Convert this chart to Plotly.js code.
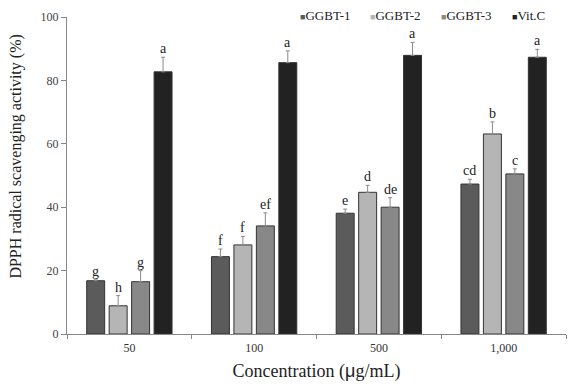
<!DOCTYPE html>
<html><head><meta charset="utf-8">
<script src="https://cdn.plot.ly/plotly-3.0.1.min.js"></script>
<style>body{margin:0;background:#fff}#chart{width:569px;height:386px}</style>
</head><body><div id="chart"></div>
<script>
const categories = ["50", "100", "500", "1,000"];
const seriesNames = ["GGBT-1", "GGBT-2", "GGBT-3", "Vit.C"];
const ggbt1 = [16.8, 24.4, 38.1, 47.3];
const ggbt2 = [8.9, 28.1, 44.7, 63.1];
const ggbt3 = [16.5, 34.1, 40.0, 50.5];
const vitc  = [82.7, 85.6, 87.9, 87.3];
const err1 = [0.3, 2.4, 1.3, 1.5];
const err2 = [3.2, 2.7, 2.2, 3.8];
const err3 = [3.5, 4.1, 3.0, 1.6];
const errV = [4.6, 3.7, 4.1, 2.5];
const letters1 = ["g", "f", "e", "cd"];
const letters2 = ["h", "f", "d", "b"];
const letters3 = ["g", "ef", "de", "c"];
const lettersV = ["a", "a", "a", "a"];

const values = [ggbt1, ggbt2, ggbt3, vitc];
const errs = [err1, err2, err3, errV];
const letters = [letters1, letters2, letters3, lettersV];
const colors = ["#5b5b5b", "#b5b5b5", "#888888", "#222222"];
const serif = "Liberation Serif";
const bargap = 0.28;

const traces = values.map((v, j) => ({
  type: "bar", name: seriesNames[j], x: categories, y: v,
  marker: {color: colors[j], line: {color: "#333", width: 1}},
  error_y: {type: "data", symmetric: false, array: errs[j], arrayminus: v.map(() => 0),
            color: "#8a8a8a", thickness: 1, width: 2}
}));

const slot = (1 - bargap) / 4;
const annotations = [];
values.forEach((v, j) => {
  v.forEach((val, i) => {
    annotations.push({
      x: i + (j - 1.5) * slot, y: val + errs[j][i], xref: "x", yref: "y",
      text: letters[j][i], showarrow: false, yanchor: "bottom", yshift: -1,
      font: {family: serif, size: 14, color: "#222"}
    });
  });
});

// legend drawn as text entries (square glyph + name)
const legendX = [0.462, 0.603, 0.745, 0.887];
seriesNames.forEach((n, j) => {
  annotations.push({
    xref: "paper", yref: "paper", x: legendX[j], y: 1.005, xanchor: "left", yanchor: "middle",
    showarrow: false,
    text: "<span style='color:" + colors[j] + ";font-size:9px'>■</span>" + n,
    font: {family: serif, size: 13, color: "#222"}
  });
});

// y axis title
annotations.push({
  xref: "paper", yref: "paper", x: -0.102, y: 0.56, xanchor: "center", yanchor: "middle",
  textangle: -90, showarrow: false,
  text: "DPPH radical scavenging activity (%)",
  font: {family: serif, size: 16, color: "#222"}
});

const layout = {
  width: 569, height: 386,
  margin: {l: 67, r: 3, t: 17, b: 52},
  paper_bgcolor: "#fff", plot_bgcolor: "#fff",
  barmode: "group", bargap: bargap, bargroupgap: 0.2,
  font: {family: serif, color: "#333"},
  showlegend: false,
  xaxis: {type: "category", tickson: "boundaries", ticks: "outside", ticklen: 4,
          tickcolor: "#888", showline: true, linecolor: "#888", linewidth: 1,
          showgrid: false, ticklabelstandoff: 3,
          tickfont: {family: serif, size: 12, color: "#333"},
          title: {text: "Concentration (<span style='font-family:Liberation Sans'>μ</span>g/mL)",
                  font: {family: serif, size: 18, color: "#222"}, standoff: 9}},
  yaxis: {range: [0, 100], dtick: 20, ticks: "outside", ticklen: 5, tickcolor: "#888",
          showline: true, linecolor: "#888", linewidth: 1, showgrid: false, zeroline: false,
          tickfont: {family: serif, size: 12, color: "#444"}},
  annotations: annotations
};

Plotly.newPlot("chart", traces, layout, {displayModeBar: false, staticPlot: true});
</script></body></html>
